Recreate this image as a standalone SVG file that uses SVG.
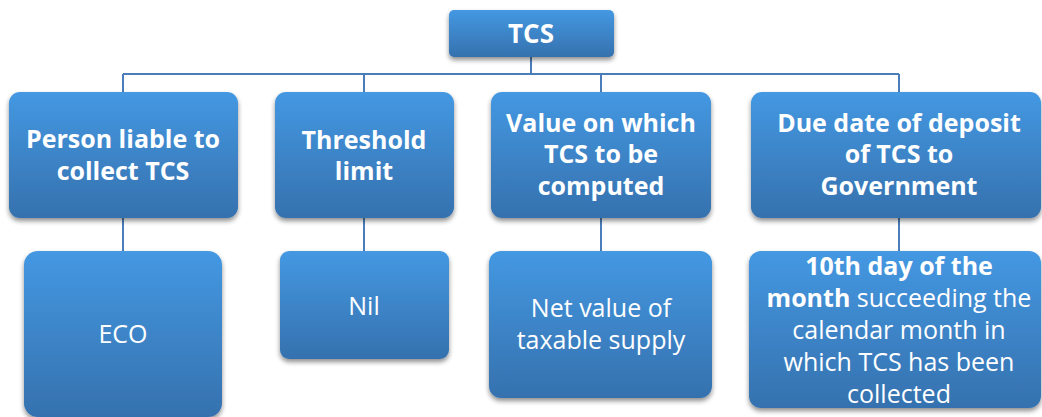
<svg xmlns="http://www.w3.org/2000/svg" width="1042" height="417" viewBox="0 0 1042 417">
<defs>
<linearGradient id="g" x1="0" y1="0" x2="0" y2="1">
<stop offset="0" stop-color="#4498E2"/>
<stop offset="1" stop-color="#3571AE"/>
</linearGradient>
<filter id="sh" x="-10%" y="-10%" width="120%" height="130%">
<feGaussianBlur in="SourceAlpha" stdDeviation="2.5"/>
<feOffset dx="0" dy="3" result="b"/>
<feComponentTransfer><feFuncA type="linear" slope="0.45"/></feComponentTransfer>
<feMerge><feMergeNode/><feMergeNode in="SourceGraphic"/></feMerge>
</filter>
</defs>
<style>
.box{fill:url(#g);filter:url(#sh);}
.t{font-family:"Open Sans","Noto Sans","Liberation Sans",sans-serif;fill:#fff;text-anchor:middle;}
.b{font-weight:bold;font-size:25px;}
.r{font-size:25px;}
.c{fill:none;stroke:#4A7DBA;stroke-width:2;}
</style>
<rect width="1042" height="417" fill="#fff"/>
<g id="connectors">
<path class="c" d="M531 57V74M123 74H899M123 74V92M364 74V92M601 74V92M899 74V92"/>
<path class="c" d="M123 218V251M364 218V251M601 218V251M899 218V251"/>
</g>
<g id="tcs">
<rect class="box" x="449" y="10" width="165" height="47" rx="5"/>
<text class="t b" x="531" y="43" style="font-size:26px">TCS</text>
</g>
<g id="person">
<rect class="box" x="9" y="92" width="229" height="126" rx="11"/>
<text class="t b" x="123" y="148">Person liable to</text>
<text class="t b" x="123" y="180">collect TCS</text>
</g>
<g id="threshold">
<rect class="box" x="275" y="92" width="179" height="126" rx="11"/>
<text class="t b" x="364" y="149">Threshold</text>
<text class="t b" x="364" y="180">limit</text>
</g>
<g id="value">
<rect class="box" x="491" y="92" width="220" height="126" rx="11"/>
<text class="t b" x="601" y="132">Value on which</text>
<text class="t b" x="601" y="163">TCS to be</text>
<text class="t b" x="601" y="195">computed</text>
</g>
<g id="duedate">
<rect class="box" x="751" y="92" width="290" height="126" rx="11"/>
<text class="t b" x="899" y="132">Due date of deposit</text>
<text class="t b" x="899" y="163">of TCS to</text>
<text class="t b" x="899" y="195">Government</text>
</g>
<g id="eco">
<rect class="box" x="24" y="251" width="198" height="166" rx="14"/>
<text class="t r" x="123" y="343">ECO</text>
</g>
<g id="nil">
<rect class="box" x="280" y="251" width="169" height="108" rx="9"/>
<text class="t r" x="364" y="315">Nil</text>
</g>
<g id="netvalue">
<rect class="box" x="489" y="251" width="223" height="147" rx="12"/>
<text class="t r" x="601" y="317">Net value of</text>
<text class="t r" x="601" y="349">taxable supply</text>
</g>
<g id="tenth">
<rect class="box" x="749" y="251" width="292" height="157" rx="12"/>
<text class="t b" x="899" y="275">10th day of the</text>
<text class="t r" x="899" y="307"><tspan font-weight="bold">month</tspan> succeeding the</text>
<text class="t r" x="899" y="339">calendar month in</text>
<text class="t r" x="899" y="371">which TCS has been</text>
<text class="t r" x="899" y="403">collected</text>
</g>
</svg>
